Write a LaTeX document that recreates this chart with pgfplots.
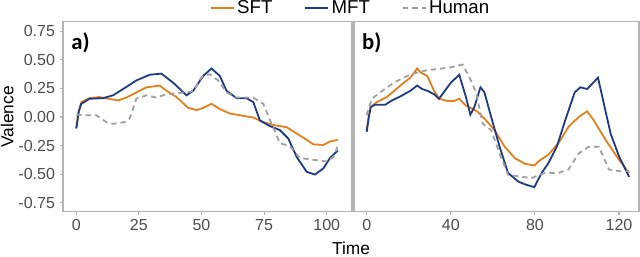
\documentclass[border=0pt]{standalone}
\usepackage{fontspec}
\setmainfont{Liberation Sans}
\newfontfamily\labfont{Carlito}
\usepackage{pgfplots}
\pgfplotsset{compat=1.18}
\definecolor{sft}{RGB}{228,128,28}
\definecolor{mft}{RGB}{30,58,135}
\definecolor{hum}{RGB}{160,160,160}
\definecolor{frame}{RGB}{180,180,180}
\definecolor{ticklab}{RGB}{77,77,77}
\pgfplotsset{
  panel/.style={
    scale only axis, anchor=south west,
    height=142.5pt,
    ymin=-0.83, ymax=0.835,
    axis line style={frame, line width=0.8pt},
    tick style={frame, line width=0.8pt},
    tick align=outside, major tick length=2.5pt,
    xtick pos=lower, ytick pos=left,
    ticklabel style={font=\fontsize{12}{14}\selectfont, text=ticklab},
    /pgf/number format/assume math mode=true,
    clip=true,
    legend image code/.code={\draw[#1] (0pt,0pt) -- (17pt,0pt);},
  },
  sftl/.style={sft, line width=1.35pt},
  mftl/.style={mft, line width=1.35pt},
  huml/.style={hum, line width=1.35pt, dash pattern=on 4pt off 3pt},
}
\begin{document}
\begin{tikzpicture}
\useasboundingbox (0pt,0pt) rectangle (480pt,192.75pt);
% panel a
\begin{axis}[panel, at={(47.25pt,33.975pt)}, width=216.75pt,
  xmin=-5.3, xmax=110.1,
  xtick={0,25,50,75,100},
  ytick={-0.75,-0.5,-0.25,0,0.25,0.5,0.75},
  yticklabels={-0.75,-0.50,-0.25,0.00,0.25,0.50,0.75},
  legend columns=3,
  legend style={at={(0.9965,1.0705)}, anchor=center, draw=none, fill=none,
    font=\fontsize{14}{16}\selectfont, inner sep=0pt,
    /tikz/every even column/.append style={column sep=22pt}},
]
\addplot[sftl] coordinates {
(0,-0.10) (1,0.05) (2,0.13) (5.3,0.165) (9.3,0.175) (12.7,0.16) (16.7,0.145)
(20,0.17) (24,0.215) (28,0.26) (33.3,0.275) (36,0.23) (40,0.175) (44.7,0.08)
(48,0.06) (50.7,0.08) (54,0.115) (57.3,0.07) (61.3,0.03) (66.7,0.01)
(70.7,-0.005) (74.7,-0.045) (78.7,-0.07) (84,-0.09) (88,-0.145) (92,-0.20)
(94.7,-0.24) (98.7,-0.245) (101.3,-0.215) (104.4,-0.20)};
\addlegendentry{SFT}
\addplot[mftl] coordinates {
(0,-0.10) (1,0.05) (2,0.115) (5.3,0.16) (10.7,0.165) (14.7,0.19) (18.7,0.245)
(24,0.32) (29.3,0.37) (34,0.38) (38.7,0.30) (44,0.19) (46.7,0.23) (50.7,0.36)
(54,0.425) (57.3,0.36) (60,0.23) (64,0.165) (68,0.165) (70.7,0.13) (73.3,-0.03)
(77.3,-0.08) (81.3,-0.115) (84.7,-0.19) (88,-0.35) (92,-0.48) (95.3,-0.505)
(98.7,-0.45) (101.3,-0.36) (104.4,-0.295)};
\addlegendentry{MFT}
\addplot[huml] coordinates {
(0,0.02) (4,0.015) (8,0.015) (12,-0.045) (14.7,-0.06) (19.3,-0.045)
(21.3,-0.015) (24,0.16) (28,0.19) (32,0.17) (36,0.20) (41.3,0.21) (46.7,0.225)
(50,0.35) (53.3,0.375) (56.7,0.32) (60,0.215) (64,0.17) (70.7,0.17)
(74.7,0.115) (78,-0.06) (81.3,-0.23) (85.3,-0.255) (89.3,-0.36) (94.7,-0.375)
(100,-0.39) (102.7,-0.35) (104.4,-0.255)};
\addlegendentry{Human}
\node[anchor=north west, inner sep=0pt, font=\labfont\bfseries\fontsize{17}{19}\selectfont]
  at (axis description cs:0.028,0.945) {a)};
\end{axis}
% panel b
\begin{axis}[panel, at={(265.5pt,33.975pt)}, width=213.75pt,
  xmin=-6.04, xmax=129.5,
  xtick={0,40,80,120},
  ytick=\empty,
]
\addplot[sftl] coordinates {
(0,-0.115) (1,0.0) (1.9,0.087) (4.8,0.13) (9.6,0.175) (16,0.275) (20.8,0.345)
(24,0.425) (25.6,0.39) (28.8,0.36) (32,0.23) (34.4,0.16) (38.4,0.14) (41.6,0.14)
(44,0.16) (47.2,0.10) (50.4,0.07) (52.8,0.045) (56,-0.015) (60.8,-0.115)
(65.6,-0.26) (70.4,-0.36) (75.2,-0.41) (79.7,-0.425) (81.6,-0.39) (86.4,-0.33)
(91.2,-0.23) (96,-0.085) (100.8,0.0) (104.8,0.05) (108,-0.03) (113.6,-0.20)
(120,-0.375) (124.8,-0.49)};
\addplot[mftl] coordinates {
(0,-0.13) (1,0.0) (1.9,0.087) (4,0.107) (8.8,0.107) (12,0.145) (16,0.18)
(20.8,0.23) (24,0.275) (26.4,0.245) (28.8,0.23) (32,0.20) (34.4,0.16) (36,0.20)
(40,0.30) (44,0.37) (47.2,0.175) (49.3,0.02) (51.2,0.087) (54.1,0.26) (56,0.215)
(59.2,0.0) (63.2,-0.26) (67.2,-0.49) (72,-0.565) (75.2,-0.59) (79.7,-0.615)
(83.2,-0.49) (86.4,-0.405) (90.4,-0.26) (94.4,-0.03) (98.9,0.215) (101.6,0.26)
(104.8,0.245) (107.2,0.29) (110,0.345) (112.8,0.115) (116,-0.145) (120,-0.345)
(124.8,-0.525)};
\addplot[huml] coordinates {
(0,0.015) (2.4,0.16) (6.4,0.215) (12.8,0.30) (19.2,0.36) (24,0.39) (28.8,0.41)
(33.6,0.42) (40,0.435) (45.6,0.46) (48.8,0.35) (52,0.215) (55.2,-0.06)
(59.2,-0.115) (63.2,-0.32) (67.2,-0.505) (72,-0.52) (78.4,-0.535) (84.8,-0.49)
(91.2,-0.49) (96,-0.46) (100.8,-0.32) (105.6,-0.26) (110.4,-0.26) (115.2,-0.46)
(120,-0.475) (124.8,-0.475)};
\node[anchor=north west, inner sep=0pt, font=\labfont\bfseries\fontsize{17}{19}\selectfont]
  at (axis description cs:0.028,0.945) {b)};
\end{axis}
\node[font=\fontsize{13}{15}\selectfont, anchor=base] at (263.25pt,1.5pt) {Time};
\node[font=\fontsize{13}{15}\selectfont, rotate=90, anchor=base] at (10pt,105.2pt) {Valence};
\end{tikzpicture}
\end{document}
